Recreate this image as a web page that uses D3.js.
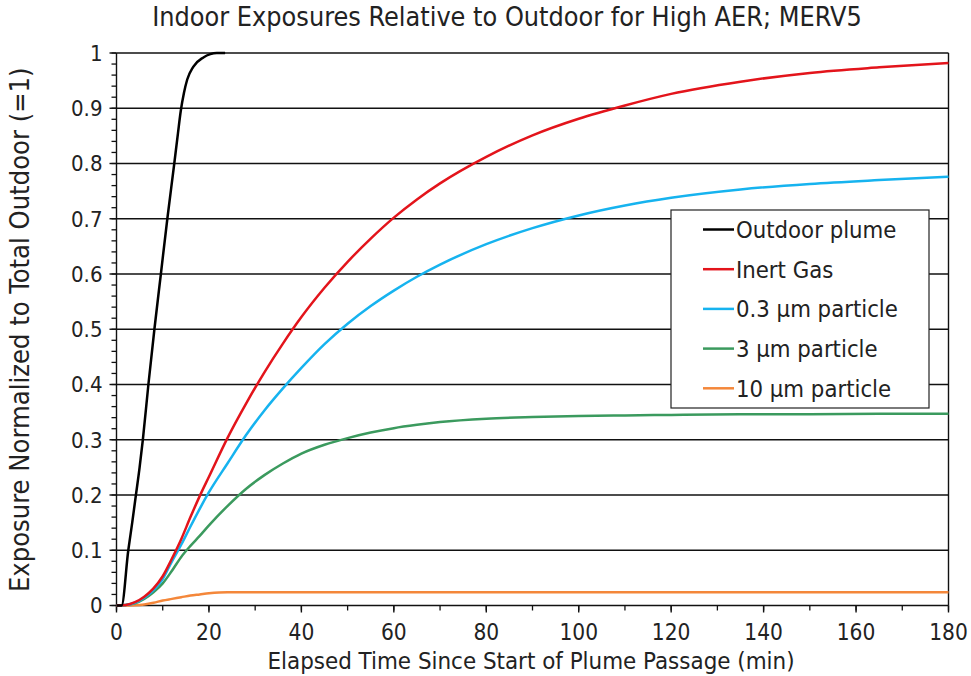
<!DOCTYPE html>
<html>
<head>
<meta charset="utf-8">
<script src="https://cdn.jsdelivr.net/npm/d3@7"></script>
<style>
  html, body { margin: 0; padding: 0; background: #fff; }
  svg { display: block; font-family: "DejaVu Sans Condensed", "DejaVu Sans", sans-serif; }
</style>
</head>
<body>
<svg id="chart" width="971" height="676"></svg>
<script>
// Outdoor plume passage (cumulative, normalized)
const plumeMinutes = [0, 1.1, 2.55, 3.4, 4.2, 5.0, 5.7, 6.9, 8.2, 9.6, 11.0, 12.5, 13.3, 13.9, 14.6, 15.3, 16.6, 18.8, 20.3, 21.7, 23.5];
const plumeValues  = [0, 0, 0.10, 0.15, 0.20, 0.25, 0.30, 0.40, 0.50, 0.60, 0.70, 0.80, 0.855, 0.895, 0.928, 0.952, 0.975, 0.992, 0.998, 1.0, 1.0];

// Indoor exposures on a shared time grid (min)
const minutes = [0, 2, 4, 6, 8, 10, 12, 14, 16, 18, 20, 24, 28, 32, 36, 40, 45, 50, 55, 60, 65, 70, 80, 90, 100, 110, 120, 135, 150, 165, 180];
const inertGas = [0, 0.001, 0.006, 0.016, 0.031, 0.053, 0.085, 0.12, 0.16, 0.198, 0.233, 0.303, 0.365, 0.422, 0.474, 0.522, 0.575, 0.622, 0.664, 0.702, 0.735, 0.764, 0.812, 0.851, 0.881, 0.905, 0.926, 0.948, 0.964, 0.974, 0.982];
const particle03 = [0, 0.001, 0.005, 0.014, 0.028, 0.048, 0.08, 0.11, 0.143, 0.175, 0.205, 0.257, 0.308, 0.353, 0.393, 0.430, 0.473, 0.510, 0.542, 0.570, 0.595, 0.617, 0.654, 0.683, 0.706, 0.724, 0.738, 0.753, 0.763, 0.770, 0.776];
const particle3 = [0, 0.001, 0.004, 0.012, 0.024, 0.04, 0.063, 0.088, 0.108, 0.126, 0.145, 0.18, 0.211, 0.236, 0.257, 0.275, 0.291, 0.303, 0.313, 0.321, 0.327, 0.332, 0.338, 0.341, 0.343, 0.344, 0.345, 0.346, 0.346, 0.347, 0.347];
const particle10 = [0, 0, 0.0005, 0.002, 0.005, 0.009, 0.012, 0.015, 0.018, 0.020, 0.022, 0.024, 0.024, 0.024, 0.024, 0.024, 0.024, 0.024, 0.024, 0.024, 0.024, 0.024, 0.024, 0.024, 0.024, 0.024, 0.024, 0.024, 0.024, 0.024, 0.024];

const seriesNames = ["Outdoor plume", "Inert Gas", "0.3 \u00b5m particle", "3 \u00b5m particle", "10 \u00b5m particle"];
const seriesColors = ["#000000", "#e3141b", "#16b3ef", "#3b9a5e", "#f4873a"];

const xTicks = [0, 20, 40, 60, 80, 100, 120, 140, 160, 180];
const yTicks = [0, 0.1, 0.2, 0.3, 0.4, 0.5, 0.6, 0.7, 0.8, 0.9, 1];

const titleText = "Indoor Exposures Relative to Outdoor for High AER; MERV5";
const xTitle = "Elapsed Time Since Start of Plume Passage (min)";
const yTitle = "Exposure Normalized to Total Outdoor (=1)";

const series = [
  { name: seriesNames[0], color: seriesColors[0], pts: plumeMinutes.map((t, i) => [t, plumeValues[i]]) },
  { name: seriesNames[1], color: seriesColors[1], pts: minutes.map((t, i) => [t, inertGas[i]]) },
  { name: seriesNames[2], color: seriesColors[2], pts: minutes.map((t, i) => [t, particle03[i]]) },
  { name: seriesNames[3], color: seriesColors[3], pts: minutes.map((t, i) => [t, particle3[i]]) },
  { name: seriesNames[4], color: seriesColors[4], pts: minutes.map((t, i) => [t, particle10[i]]) }
];

const svg = d3.select("#chart");
const m = { left: 116.5, right: 948.5, top: 53, bottom: 605.5 };
const ink = "#111";
const textInk = "#222";

const x = d3.scaleLinear().domain([0, 180]).range([m.left, m.right]);
const y = d3.scaleLinear().domain([0, 1]).range([m.bottom, m.top]);

// Scale a text's font size so it spans the given width
function fitWidth(sel, width) {
  const node = sel.node();
  const fs = parseFloat(sel.attr("font-size"));
  const w = node.getComputedTextLength();
  if (w > 0) sel.attr("font-size", (fs * width / w).toFixed(2));
  return sel;
}

// Horizontal gridlines
svg.append("g").selectAll("line").data(yTicks.filter(v => v > 0)).join("line")
  .attr("x1", m.left).attr("x2", m.right)
  .attr("y1", d => y(d)).attr("y2", d => y(d))
  .attr("stroke", ink).attr("stroke-width", 1.4);

// Right frame line
svg.append("line").attr("x1", m.right).attr("x2", m.right).attr("y1", m.top).attr("y2", m.bottom)
  .attr("stroke", ink).attr("stroke-width", 1.4);

// Y axis with minor ticks every 0.02
const yMinor = d3.range(0, 1.0001, 0.02);
svg.append("g").selectAll("line").data(yMinor).join("line")
  .attr("x1", m.left - 5).attr("x2", m.left)
  .attr("y1", d => y(d)).attr("y2", d => y(d))
  .attr("stroke", ink).attr("stroke-width", 1.3);
svg.append("g").selectAll("line").data(yTicks).join("line")
  .attr("x1", m.left - 7).attr("x2", m.left)
  .attr("y1", d => y(d)).attr("y2", d => y(d))
  .attr("stroke", ink).attr("stroke-width", 1.4);
svg.append("line").attr("x1", m.left).attr("x2", m.left).attr("y1", m.top).attr("y2", m.bottom)
  .attr("stroke", ink).attr("stroke-width", 1.4);
svg.append("g").selectAll("text").data(yTicks).join("text")
  .attr("x", m.left - 14).attr("y", d => y(d)).attr("dy", "0.36em")
  .attr("text-anchor", "end").attr("font-size", 22).attr("fill", textInk)
  .text(d => d3.format("~g")(d));

// X axis with minor ticks every 10 min
const xMinor = d3.range(0, 181, 10);
svg.append("g").selectAll("line").data(xMinor).join("line")
  .attr("x1", d => x(d)).attr("x2", d => x(d))
  .attr("y1", m.bottom).attr("y2", m.bottom + 5)
  .attr("stroke", ink).attr("stroke-width", 1.3);
svg.append("g").selectAll("line").data(xTicks).join("line")
  .attr("x1", d => x(d)).attr("x2", d => x(d))
  .attr("y1", m.bottom).attr("y2", m.bottom + 7)
  .attr("stroke", ink).attr("stroke-width", 1.4);
svg.append("line").attr("x1", m.left).attr("x2", m.right).attr("y1", m.bottom).attr("y2", m.bottom)
  .attr("stroke", ink).attr("stroke-width", 1.4);
svg.append("g").selectAll("text").data(xTicks).join("text")
  .attr("x", d => x(d)).attr("y", 640)
  .attr("text-anchor", "middle").attr("font-size", 22.5).attr("fill", textInk)
  .text(d => d);

// Series lines
const line = d3.line().x(d => x(d[0])).y(d => y(d[1])).curve(d3.curveMonotoneX);
svg.append("g").selectAll("path").data(series.slice().reverse()).join("path")
  .attr("d", d => line(d.pts))
  .attr("fill", "none").attr("stroke", d => d.color).attr("stroke-width", 2.5)
  .attr("stroke-linejoin", "round");

// Titles
fitWidth(svg.append("text").attr("x", 507).attr("y", 26).attr("text-anchor", "middle")
  .attr("font-size", 21).attr("fill", textInk).text(titleText), 710);
fitWidth(svg.append("text").attr("x", 531).attr("y", 669).attr("text-anchor", "middle")
  .attr("font-size", 21).attr("fill", textInk).text(xTitle), 527);
fitWidth(svg.append("text").attr("transform", "translate(29," + ((m.top + m.bottom) / 2 + 0.5) + ") rotate(-90)")
  .attr("text-anchor", "middle").attr("font-size", 21).attr("fill", textInk).text(yTitle), 525);

// Legend
const lg = svg.append("g");
lg.append("rect").attr("x", 671).attr("y", 210).attr("width", 258).attr("height", 198)
  .attr("fill", "#fff").attr("stroke", "#222").attr("stroke-width", 1.2);
const items = lg.selectAll("g.item").data(series).join("g")
  .attr("transform", (d, i) => "translate(0," + (229.5 + i * 39.7) + ")");
items.append("line").attr("x1", 703).attr("x2", 734).attr("y1", 0).attr("y2", 0)
  .attr("stroke", d => d.color).attr("stroke-width", 2.5);
const labels = items.append("text").attr("x", 736).attr("y", 0).attr("dy", "0.36em")
  .attr("font-size", 21).attr("fill", textInk).text(d => d.name);
// size legend text so the "0.3 µm particle" entry spans 162 px
const refLabel = labels.filter((d, i) => i === 2);
const legendFs = parseFloat(refLabel.attr("font-size")) * 162 / refLabel.node().getComputedTextLength();
labels.attr("font-size", legendFs.toFixed(2));
</script>
</body>
</html>
